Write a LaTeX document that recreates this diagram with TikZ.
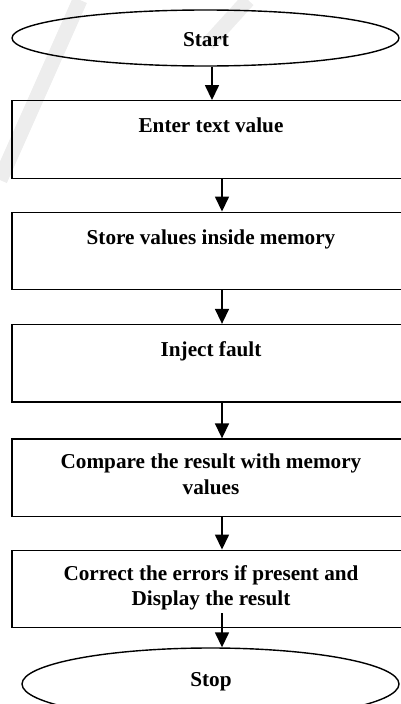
\documentclass[tikz,border=0pt]{standalone}
\usepackage{fontspec}
\setmainfont{Liberation Serif}
\usetikzlibrary{arrows.meta,shapes.geometric}

\tikzset{
  stepbox/.style={draw=black, line width=1.4pt, rectangle, inner sep=0pt,
    minimum width=420pt, minimum height=77.5pt},
  terminal/.style={draw=black, line width=1.4pt, ellipse, inner sep=0pt},
  lbl/.style={anchor=base, inner sep=0pt,
    font=\fontsize{21.2}{25.7}\selectfont\bfseries},
  arr/.style={line width=1.5pt, -{Triangle[length=15pt,width=14pt]}},
  wmark/.style={line width=15pt, draw=black!7, line cap=butt}
}

\begin{document}
\begin{tikzpicture}[x=1pt, y=-1pt]
  \useasboundingbox (0,0) rectangle (400,704);

  % faint watermark strokes in the background
  \draw[wmark] (80,0) -- (0,180);
  \draw[wmark] (248,0) -- (208,44);

  % terminals
  \node[terminal, minimum width=387pt, minimum height=56pt] (start) at (205.5,38) {};
  \node[terminal, minimum width=377pt, minimum height=72pt] (stop) at (210.5,684) {};

  % process boxes (wider than the page, right side runs off)
  \node[stepbox] (b1) at (222,139.5) {};
  \node[stepbox] (b2) at (222,251) {};
  \node[stepbox] (b3) at (222,363.3) {};
  \node[stepbox] (b4) at (222,477.8) {};
  \node[stepbox] (b5) at (222,589) {};

  % labels
  \node[lbl] (ts)  at (206,46.7) {Start};
  \node[lbl] (t1)  at (211,132.3) {Enter text value};
  \node[lbl] (t2)  at (211,244) {Store values inside memory};
  \node[lbl] (t3)  at (211,356) {Inject fault};
  \node[lbl] (t4a) at (211,468.3) {Compare the result with memory};
  \node[lbl] (t4b) at (211,494) {values};
  \node[lbl] (t5a) at (211,580.7) {Correct the errors if present and};
  \node[lbl] (t5b) at (211,605.7) {Display the result};
  \node[lbl] (te)  at (211,686.7) {Stop};

  % connectors
  \coordinate (a0) at (212,0);
  \draw[arr] (start.south -| a0) -- (b1.north -| a0);
  \draw[arr] (b1.south) -- (b2.north);
  \draw[arr] (b2.south) -- (b3.north);
  \draw[arr] (b3.south) -- (b4.north);
  \draw[arr] (b4.south) -- (b5.north);
  \draw[arr] ([yshift=15pt]b5.south) -- (stop.north -| b5.south);
\end{tikzpicture}
\end{document}
